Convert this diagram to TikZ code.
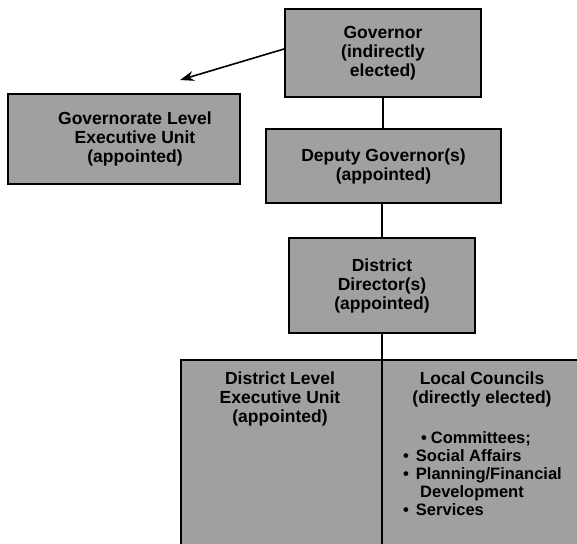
\documentclass[tikz,border=0pt]{standalone}
\usepackage{fontspec}
\setmainfont{Liberation Sans}
\usetikzlibrary{arrows.meta}
\definecolor{boxgray}{RGB}{160,160,160}
\begin{document}
\begin{tikzpicture}[x=1pt,y=-1pt,
  box/.style={draw=black, line width=2pt, fill=boxgray, rectangle, inner sep=0pt,
    font=\bfseries\fontsize{17.5}{19}\selectfont, align=center, text=black},
  lbl/.style={font=\bfseries\fontsize{17.5}{19}\selectfont, align=center, text=black, inner sep=0pt},
  item/.style={font=\bfseries\fontsize{16.5}{18}\selectfont, text=black, inner sep=0pt, anchor=base west},
  conn/.style={draw=black, line width=1.3pt}]
\useasboundingbox (0,0) rectangle (577,543);
% boxes
\node[box, minimum width=196pt, minimum height=88pt] (gov) at (383,53) {Governor\\(indirectly\\elected)};
\node[box, minimum width=232pt, minimum height=90pt] (gou) at (124,139) {\hspace*{22pt}Governorate Level\\\hspace*{22pt}Executive Unit\\\hspace*{22pt}(appointed)};
\node[box, minimum width=235pt, minimum height=74pt] (dep) at (383.5,166) {Deputy Governor(s)\\(appointed)};
\node[box, minimum width=186pt, minimum height=95pt] (dir) at (382,285.5) {District\\Director(s)\\(appointed)};
\node[box, minimum width=201pt, minimum height=200pt] (deu) at (281.5,460) {};
\node[box, minimum width=202pt, minimum height=200pt] (lc) at (483,460) {};
% texts in bottom boxes
\node[lbl] (deut) at (280,399) {District Level\\Executive Unit\\(appointed)};
\node[lbl] (lct) at (482,389) {Local Councils\\(directly elected)};
\node[item] (cm) at (421,443) {\textbullet\hspace{4pt}Committees;};
\node[item] (sa) at (403,461) {\textbullet\hspace{7pt}Social Affairs};
\node[item] (pf) at (403,479) {\textbullet\hspace{7pt}Planning/Financial};
\node[item] (dv) at (420,497) {Development};
\node[item] (sv) at (403,515) {\textbullet\hspace{7pt}Services};
% connectors
\coordinate (tip) at (180,80);
\draw[conn, line width=1.6pt, -{Stealth[length=14pt,width=10pt]}] ([yshift=4pt]gov.west) -- (tip);
\draw[conn] (gov.south) -- (gov.south |- dep.north);
\draw[conn] (dep.south -| dir.north) -- (dir.north);
\draw[conn] (dir.south) -- (dir.south |- lc.north);
\end{tikzpicture}
\end{document}
